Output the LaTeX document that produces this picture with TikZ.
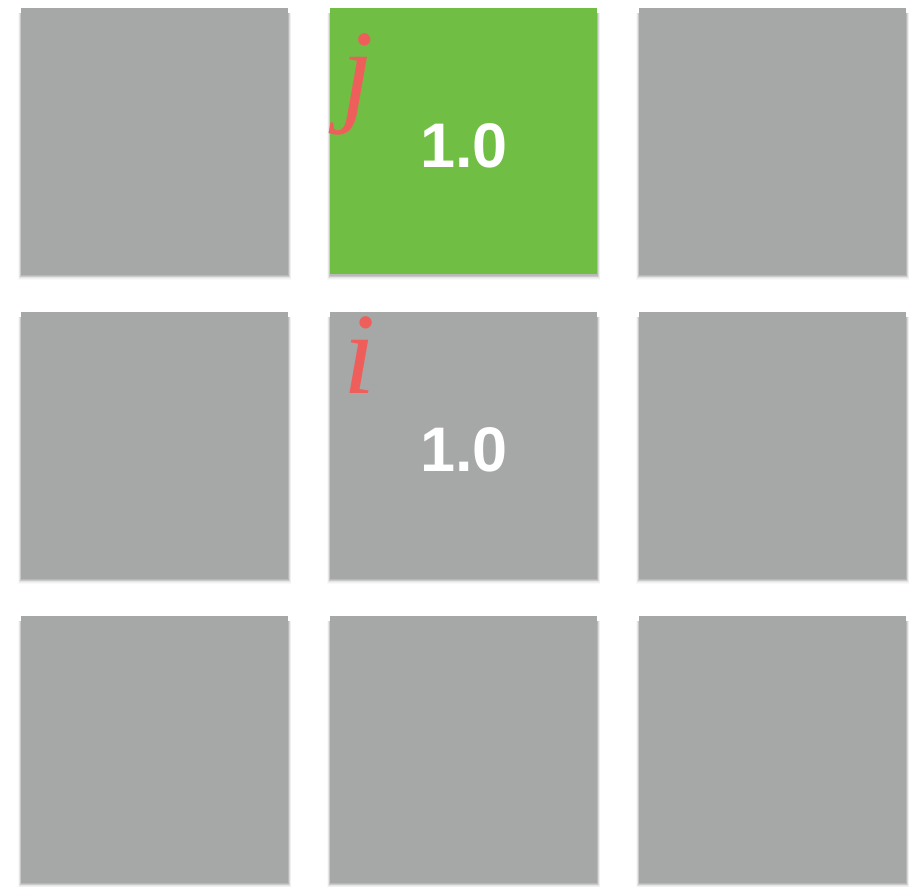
\documentclass[tikz,border=0pt]{standalone}
\usepackage{fontspec}
\setmainfont{Liberation Serif}
\newfontfamily\numfont{Liberation Sans}
\definecolor{cellgray}{HTML}{A5A8A7}
\definecolor{cellgreen}{HTML}{70BF44}
\definecolor{idxred}{HTML}{EE5F5B}
\tikzset{
  cell/.style={fill=cellgray, draw=none},
  greencell/.style={fill=cellgreen, draw=none},
  val/.style={text=white, font=\numfont\bfseries\fontsize{63}{63}\selectfont, inner sep=0pt},
  idx/.style={text=idxred, font=\itshape\fontsize{116}{116}\selectfont, inner sep=0pt, anchor=base}
}
\begin{document}
\begin{tikzpicture}[x=1pt,y=-1pt]
\useasboundingbox (0,0) rectangle (923,886);
\foreach \cx in {21,330,639}{
  \foreach \cy in {8,312,616}{
    \foreach \k/\op in {6/0.025,5/0.035,4/0.045,3/0.06,2/0.07,1/0.08}{
      \fill[black,opacity=\op] (\cx-\k*0.5,\cy+5) rectangle (\cx+267+\k*0.5,\cy+267+\k*0.8);
    }
  }
}
\foreach \cx/\cy/\nm in {21/8/a,639/8/c,21/312/d,330/312/e,639/312/f,21/616/g,330/616/h,639/616/k}{
  \path[cell] (\cx,\cy) rectangle (\cx+267,\cy+267);
  \coordinate (\nm) at (\cx,\cy);
}
\path[greencell] (330,8) rectangle (597,274);
\coordinate (b) at (330,8);
\node[val] (v1) at (464,146) {1.0};
\node[val] (v2) at (464,450) {1.0};
\node[idx] (j) at (358,110) {j};
\node[idx] (i) at (360,393) {i};
\end{tikzpicture}
\end{document}
